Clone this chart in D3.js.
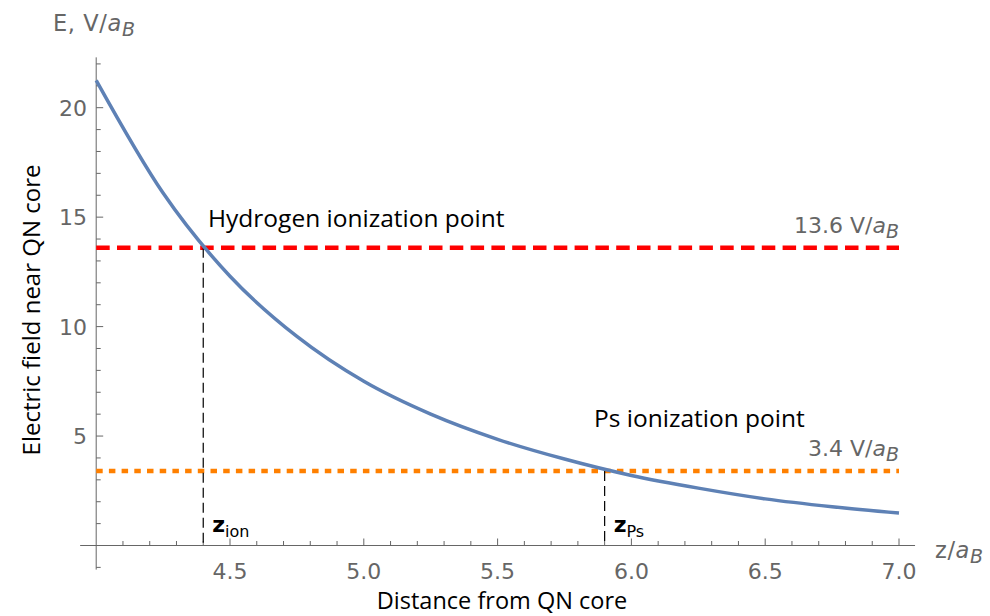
<!DOCTYPE html>
<html>
<head>
<meta charset="utf-8">
<script src="https://cdn.jsdelivr.net/npm/d3@7"></script>
<style>
  body { margin: 0; background: #fff; }
  svg { display: block; }
</style>
</head>
<body>
<div id="chart_area"></div>
<script>
// ---- data ----
const zValues = [4.0, 4.25, 4.5, 4.75, 5.0, 5.25, 5.5, 5.75, 6.0, 6.25, 6.5, 6.75, 7.0];
const fieldValues = [21.25, 16.1, 12.3, 9.55, 7.5, 6.0, 4.85, 3.95, 3.2, 2.62, 2.13, 1.77, 1.48];

const hLevel = 13.6;   // hydrogen ionization field
const psLevel = 3.4;   // Ps ionization field
const zIon = 4.4;
const zPs = 5.9;

const xMajorTicks = [4.5, 5.0, 5.5, 6.0, 6.5, 7.0];
const yMajorTicks = [5, 10, 15, 20];

let width = 990;
let height = 616;

/////////////////////////////
let svg = d3.select('#chart_area').append('svg')
  .attr('width', width)
  .attr('height', height);

let x = d3.scaleLinear().domain([4.0, 7.0]).range([96.2, 899]);
let y = d3.scaleLinear().domain([0, 20]).range([545.5, 107.7]);

const axisGray = '#666666';
const tickFont = '"DejaVu Sans", sans-serif';
const textFont = '"Open Sans", "Noto Sans", sans-serif';

/////////////////////////////
// axes (Mathematica-style: crossing lines, ticks inside)
let axes = svg.append('g').attr('stroke', axisGray).attr('stroke-width', 1);

axes.append('line')
  .attr('x1', x(3.94)).attr('x2', x(7.06))
  .attr('y1', y(0)).attr('y2', y(0));

axes.append('line')
  .attr('x1', x(4)).attr('x2', x(4))
  .attr('y1', y(22.3)).attr('y2', y(-1.1));

// x ticks every 0.1
let xMinor = d3.range(41, 71).map(d => d / 10);
axes.selectAll('.xtick')
  .data(xMinor)
  .enter().append('line')
  .attr('class', 'xtick')
  .attr('x1', d => x(d)).attr('x2', d => x(d))
  .attr('y1', y(0))
  .attr('y2', d => y(0) - (xMajorTicks.some(t => Math.abs(t - d) < 1e-6) ? 7 : 4.5));

// y ticks every 1
let yMinor = d3.range(-1, 23).filter(d => d !== 0);
axes.selectAll('.ytick')
  .data(yMinor)
  .enter().append('line')
  .attr('class', 'ytick')
  .attr('y1', d => y(d)).attr('y2', d => y(d))
  .attr('x1', x(4))
  .attr('x2', d => x(4) + (d % 5 === 0 ? 7 : 4.5));

// tick labels
svg.selectAll('.xlab')
  .data(xMajorTicks)
  .enter().append('text')
  .attr('x', d => x(d))
  .attr('y', 579)
  .attr('text-anchor', 'middle')
  .attr('fill', axisGray)
  .style('font-family', tickFont)
  .style('font-size', '22px')
  .text(d => d.toFixed(1));

svg.selectAll('.ylab')
  .data(yMajorTicks)
  .enter().append('text')
  .attr('x', 87)
  .attr('y', d => y(d) + 8)
  .attr('text-anchor', 'end')
  .attr('fill', axisGray)
  .style('font-family', tickFont)
  .style('font-size', '22px')
  .text(d => d);

// helper for "... V/aB" style gray labels
let unitLabel = (sel, prefix) => {
  sel.append('tspan').text(prefix);
  sel.append('tspan').style('font-style', 'italic').text('a');
  sel.append('tspan').style('font-style', 'italic').style('font-size', '19px').attr('dy', 5).text('B');
};

// axis end labels
let eLab = svg.append('text')
  .attr('x', 53).attr('y', 31)
  .attr('fill', axisGray)
  .style('font-family', tickFont)
  .style('font-size', '22.5px')
  .style('letter-spacing', '0.6px');
unitLabel(eLab, 'E, V/');

let zLab = svg.append('text')
  .attr('x', 935).attr('y', 558)
  .attr('fill', axisGray)
  .style('font-family', tickFont)
  .style('font-size', '22.5px')
  .style('letter-spacing', '0.6px');
unitLabel(zLab, 'z/');

// axis titles
svg.append('text')
  .attr('transform', 'translate(40,310) rotate(-90)')
  .attr('text-anchor', 'middle')
  .attr('fill', '#000')
  .style('font-family', textFont)
  .style('font-size', '24px')
  .text('Electric field near QN core');

svg.append('text')
  .attr('x', 502).attr('y', 609)
  .attr('text-anchor', 'middle')
  .attr('fill', '#000')
  .style('font-family', textFont)
  .style('font-size', '23.5px')
  .text('Distance from QN core');

/////////////////////////////
// threshold lines
svg.append('line')
  .attr('x1', x(4)).attr('x2', x(7))
  .attr('y1', y(hLevel)).attr('y2', y(hLevel))
  .attr('stroke', '#ff0000')
  .attr('stroke-width', 4.5)
  .attr('stroke-dasharray', '13.5,7.3');

svg.append('line')
  .attr('x1', x(4)).attr('x2', x(7))
  .attr('y1', y(psLevel)).attr('y2', y(psLevel))
  .attr('stroke', '#ff8000')
  .attr('stroke-width', 4.5)
  .attr('stroke-dasharray', '6.5,6.2');

// drop lines
[[zIon, hLevel], [zPs, psLevel]].forEach(p => {
  svg.append('line')
    .attr('x1', x(p[0])).attr('x2', x(p[0]))
    .attr('y1', y(p[1])).attr('y2', y(0))
    .attr('stroke', '#000')
    .attr('stroke-width', 1.2)
    .attr('stroke-dasharray', '10,5');
});

/////////////////////////////
// field curve
let line = d3.line()
  .x((d, i) => x(zValues[i]))
  .y(d => y(d))
  .curve(d3.curveMonotoneX);

svg.append('path')
  .datum(fieldValues)
  .attr('d', line)
  .attr('fill', 'none')
  .attr('stroke', '#5e81b5')
  .attr('stroke-width', 3.5);

/////////////////////////////
// annotations
svg.append('text')
  .attr('x', 208).attr('y', 227)
  .attr('fill', '#000')
  .style('font-family', textFont)
  .style('font-size', '24.5px')
  .text('Hydrogen ionization point');

svg.append('text')
  .attr('x', 594).attr('y', 427)
  .attr('fill', '#000')
  .style('font-family', textFont)
  .style('font-size', '24.5px')
  .text('Ps ionization point');

let hVal = svg.append('text')
  .attr('x', 899).attr('y', y(hLevel) - 15)
  .attr('text-anchor', 'end')
  .attr('fill', axisGray)
  .style('font-family', tickFont)
  .style('font-size', '22px');
unitLabel(hVal, hLevel + ' V/');

let psVal = svg.append('text')
  .attr('x', 899).attr('y', y(psLevel) - 15)
  .attr('text-anchor', 'end')
  .attr('fill', axisGray)
  .style('font-family', tickFont)
  .style('font-size', '22px');
unitLabel(psVal, psLevel + ' V/');

// z labels at the crossing points
[[zIon, 'ion'], [zPs, 'Ps']].forEach(p => {
  let t = svg.append('text')
    .attr('x', x(p[0]) + 9).attr('y', 532)
    .attr('fill', '#000')
    .style('font-family', tickFont)
    .style('font-size', '22px');
  t.append('tspan').style('font-weight', 'bold').text('z');
  t.append('tspan').style('font-size', '16px').attr('dy', 5).text(p[1]);
});
</script>
</body>
</html>
